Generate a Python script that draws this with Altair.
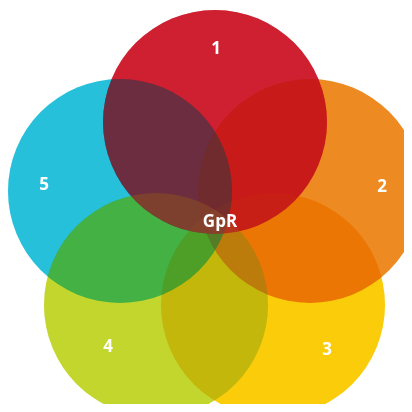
import altair as alt
import pandas as pd

# circle data (page-pixel units)
names = ["5", "4", "3", "2", "1"]
cx = [120, 156, 273, 310, 215]
cy = [191, 305, 305, 191, 122]
colors = ["#27C0DC", "#C3D72F", "#FACD0A", "#EF8B22", "#CE2030"]
tint = [0.19, 0.22, 0.06, 0.05, 0.43]
draw_order = [1, 2, 3, 4, 5]

label_text = ["1", "2", "3", "4", "5", "GpR"]
label_x = [216, 382, 327, 108, 44, 220]
label_y = [49, 187, 350, 347, 185, 222]

circles = pd.DataFrame({"name": names, "cx": cx, "cy": cy, "color": colors,
                        "tint": tint, "ord": draw_order})
labels = pd.DataFrame({"text": label_text, "x": label_x, "y": label_y})

W = 396
H = 396
xs = alt.Scale(domain=[8, 404], nice=False, zero=False)
ys = alt.Scale(domain=[8, 404], nice=False, zero=False, reverse=True)
DIAM = 224

base = alt.Chart(circles).encode(
    x=alt.X("cx:Q", scale=xs, axis=None),
    y=alt.Y("cy:Q", scale=ys, axis=None),
    color=alt.Color("color:N", scale=None),
    order=alt.Order("ord:Q"),
)

multiply = base.mark_circle(size=DIAM * DIAM, opacity=1, blend="multiply", clip=True)
tints = base.mark_circle(size=DIAM * DIAM, clip=True).encode(
    opacity=alt.Opacity("tint:Q", scale=None)
)

text = alt.Chart(labels).mark_text(
    font="Open Sans", fontWeight="bold", fontSize=17, color="white",
    align="center", baseline="middle"
).encode(
    x=alt.X("x:Q", scale=xs, axis=None),
    y=alt.Y("y:Q", scale=ys, axis=None),
    text="text:N",
)

chart = alt.layer(multiply, tints, text).properties(
    width=W, height=H, padding=0, background="white"
).configure_view(stroke=None, strokeWidth=0)

chart.save("out.html", embed_options={"renderer": "svg", "actions": False})
